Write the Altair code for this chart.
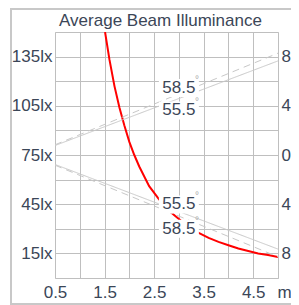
import altair as alt
import pandas as pd

# ---- data ----
red_d = [1.51, 1.6, 1.7, 1.8, 1.9, 2.0, 2.1, 2.2, 2.4, 2.6, 2.8, 3.0, 3.2, 3.4, 3.6, 3.8, 4.0, 4.2, 4.4, 4.6, 4.8, 5.0]
red_lx = [150, 133, 117, 104, 93, 83, 75, 68, 56, 48, 41, 36, 31, 27.5, 24.5, 22, 20, 18, 16.5, 15, 14, 12.8]

beam_d = [0.5, 5.0]
solid_upper = [0.77, 7.65]
solid_lower = [-0.77, -7.65]
dashed_upper = [0.83, 8.28]
dashed_lower = [-0.83, -8.28]

label_text = ["58.5", "55.5", "55.5", "58.5"]
label_d = [3.0, 3.0, 3.0, 3.0]
label_u = [5.45, 3.62, -4.02, -6.0]

title_text = "Average Beam Illuminance"
x_grid = [0.5, 1.0, 1.5, 2.0, 2.5, 3.0, 3.5, 4.0, 4.5, 5.0]
y_grid = [0, 15, 30, 45, 60, 75, 90, 105, 120, 135, 150]
right_ticks = [-8, -4, 0, 4, 8]

# ---- tables ----
red_df = pd.DataFrame({"d": red_d, "lx": red_lx})
rows = []
for name, vals, dash in [("su", solid_upper, "solid"), ("sl", solid_lower, "solid"),
                         ("du", dashed_upper, "dashed"), ("dl", dashed_lower, "dashed")]:
    for d, u in zip(beam_d, vals):
        rows.append({"line": name, "d": d, "u": u, "style": dash})
beam_df = pd.DataFrame(rows)
lab_df = pd.DataFrame({"d": label_d, "u": label_u, "t": label_text})
title_df = pd.DataFrame({"t": [title_text]})

FONT = "Liberation Sans"
TXT = "#3b4657"
GRID = "#bfbfbf"
BEAM = "#c8c8c8"

xscale = alt.Scale(domain=[0.5, 5.0], nice=False, zero=False)
uscale = alt.Scale(domain=[-10, 10], nice=False, zero=False)

x_enc = alt.X(
    "d:Q", scale=xscale, title=None,
    axis=alt.Axis(
        values=x_grid, grid=True, gridColor=GRID, domain=False, ticks=False,
        labelFont=FONT, labelFontSize=17, labelColor=TXT, labelPadding=6,
        labelFlush=False, labelOverlap=False,
        labelExpr="datum.value == 5 ? 'm' : (datum.value % 1 == 0 ? '' : format(datum.value, '.1f'))",
        labelAlign={"condition": {"test": "datum.value == 5", "value": "left"}, "value": "center"},
        labelOffset={"condition": {"test": "datum.value == 5", "value": -1}, "value": 0},
    ),
)

red = alt.Chart(red_df).mark_line(color="#ff0000", strokeWidth=2, clip=True).encode(
    x=x_enc,
    y=alt.Y("lx:Q", scale=alt.Scale(domain=[0, 150], nice=False), title=None,
            axis=alt.Axis(values=y_grid, grid=True, gridColor=GRID, domain=False, ticks=False,
                          labelFont=FONT, labelFontSize=17, labelColor=TXT, labelPadding=3,
                          labelOverlap=False, labelFlush=False,
                          labelExpr="(datum.value / 15) % 2 == 1 ? datum.value + 'lx' : ''")),
)

beam = alt.Chart(beam_df).mark_line(color=BEAM, strokeWidth=1, clip=True).encode(
    x=x_enc,
    y=alt.Y("u:Q", scale=uscale, title=None,
            axis=alt.Axis(orient="right", values=right_ticks, grid=False, domain=False, ticks=False,
                          labelFont=FONT, labelFontSize=17, labelColor=TXT, labelPadding=3,
                          labelAlign="left", labelOverlap=False, labelFlush=False,
                          labelExpr="abs(datum.value)")),
    detail="line:N",
    strokeDash=alt.StrokeDash("style:N", scale=alt.Scale(domain=["solid", "dashed"], range=[[1, 0], [7, 5]]), legend=None),
)

box = alt.Chart(lab_df).mark_point(
    shape="M-1,-0.45L1,-0.45L1,0.45L-1,0.45Z", size=1600, filled=True, fill="white", opacity=1, strokeWidth=0
).encode(x=x_enc, y=alt.Y("u:Q", scale=uscale, axis=None))

txt = alt.Chart(lab_df).mark_text(font=FONT, fontSize=17, color=TXT, align="center", baseline="middle").encode(
    x=x_enc, y=alt.Y("u:Q", scale=uscale, axis=None), text="t:N")

deg = alt.Chart(lab_df).mark_text(font=FONT, fontSize=10, color="#aaaaaa", align="center", baseline="middle", dx=18, dy=-8, text="°").encode(
    x=x_enc, y=alt.Y("u:Q", scale=uscale, axis=None))

title = alt.Chart(title_df).mark_text(font=FONT, fontSize=17, color=TXT, align="center", baseline="alphabetic").encode(
    x=alt.value(105.5), y=alt.value(-6), text="t:N")

frame = alt.Chart(title_df).mark_rect(filled=False, stroke="#c8c8c8", strokeWidth=2, fill=None).encode(
    x=alt.value(-44), x2=alt.value(260), y=alt.value(-23), y2=alt.value(272))

chart = alt.layer(red, beam, box, txt, deg, title, frame).resolve_scale(y="independent").properties(
    width=223, height=246,
    autosize=alt.AutoSizeParams(type="none"),
    padding={"left": 47, "top": 24, "right": 13, "bottom": 27},
).configure_view(stroke=None).configure(background="white")

chart.save("out.html", embed_options={"renderer": "svg", "actions": False})
